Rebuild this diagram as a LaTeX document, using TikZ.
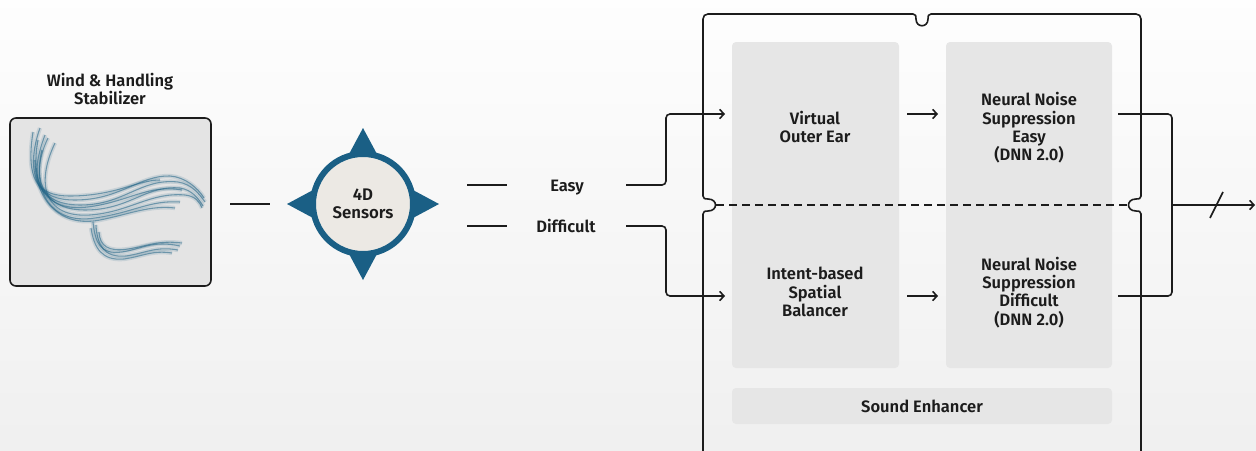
\documentclass[tikz,border=0pt]{standalone}
\usepackage{fontspec}
\setmainfont{Fira Sans}[BoldFont={Fira Sans SemiBold}]
\usetikzlibrary{arrows.meta,calc}
\definecolor{ink}{HTML}{1C1C1C}
\definecolor{ringblue}{HTML}{1A5F85}
\definecolor{disc}{HTML}{ECE9E4}
\definecolor{panel}{HTML}{E6E6E6}
\definecolor{windbg}{HTML}{E4E4E4}
\definecolor{windblue}{HTML}{216486}
\begin{document}
\begin{tikzpicture}[x=0.75pt,y=-0.75pt,
  lbl/.style={font=\bfseries\fontsize{12.4}{13.7}\selectfont, text=ink, align=center, inner sep=0pt},
  conn/.style={draw=ink, line width=1.2pt},
  arr/.style={conn, -{Straight Barb[length=3.2pt,width=7pt]}},
  panelbox/.style={fill=panel, rounded corners=3pt, inner sep=0pt, draw=none},
  windbox/.style={fill=windbg, draw=ink, line width=1.2pt, rounded corners=4.5pt, inner sep=0pt},
  strand/.style={draw=windblue, line width=0.8pt, opacity=0.55},
  strandglow/.style={draw=windblue, line width=3.2pt, opacity=0.14},
]
\useasboundingbox (0,0) rectangle (1256,450);
\shade[top color=white!99!gray, bottom color=gray!12] (0,0) rectangle (1256,450);

% ---------- wind & handling stabilizer ----------
\node[lbl] (windtitle) at (110,89) {Wind \& Handling\\Stabilizer};
\node[windbox, minimum width=150.75pt, minimum height=126pt] (wind) at (110.5,202) {};
\begin{scope}
  \clip[rounded corners=4.5pt] (wind.south west) rectangle (wind.north east);
  \foreach \s in {strandglow,strand}{
    \path[\s] (40,128) .. controls (25,170) and (35,205) .. (80,205) .. controls (125,205) and (140,178) .. (178,182) .. controls (192,184) and (200,195) .. (205,202);
    \path[\s] (48,138) .. controls (30,175) and (40,210) .. (85,210) .. controls (130,210) and (145,185) .. (180,188) .. controls (192,190) and (198,198) .. (203,206);
    \path[\s] (55,143) .. controls (35,185) and (45,218) .. (90,215) .. controls (130,212) and (150,192) .. (185,195) .. controls (195,196) and (200,202) .. (202,208);
    \path[\s] (42,150) .. controls (32,190) and (50,225) .. (95,218) .. controls (135,212) and (150,200) .. (180,202);
    \path[\s] (35,160) .. controls (35,200) and (60,228) .. (100,220) .. controls (130,214) and (150,205) .. (175,208);
    \path[\s] (45,135) .. controls (28,180) and (38,200) .. (75,200) .. controls (120,200) and (140,175) .. (170,176) .. controls (185,177) and (198,188) .. (204,198);
    \path[\s] (38,140) .. controls (30,185) and (45,212) .. (88,207) .. controls (128,202) and (148,184) .. (182,190);
    \path[\s] (33,132) .. controls (26,178) and (36,196) .. (70,196) .. controls (115,196) and (138,180) .. (160,180);
    \path[\s] (93,222) .. controls (95,242) and (100,255) .. (122,252) .. controls (142,249) and (152,240) .. (180,246);
    \path[\s] (96,225) .. controls (97,245) and (104,258) .. (126,256) .. controls (146,253) and (156,246) .. (178,250);
    \path[\s] (91,228) .. controls (94,248) and (102,261) .. (124,259) .. controls (144,256) and (152,250) .. (172,253);
    \path[\s] (99,232) .. controls (100,246) and (108,252) .. (128,249) .. controls (148,246) and (158,240) .. (182,243);
  }
\end{scope}

% ---------- 4D sensors ----------
\coordinate (sc) at (363,204);
\foreach \a in {0,90,180,270}{
  \fill[ringblue] ($(sc)+(\a:76)$) -- ($(sc)+(\a:35)+(\a+90:22)$) -- ($(sc)+(\a:35)+(\a-90:22)$) -- cycle;
}
\node[circle, fill=disc, draw=ringblue, line width=4.5pt, minimum size=75pt, inner sep=0pt,
      font=\bfseries\fontsize{12.6}{13.7}\selectfont, text=ink, align=center] (sensor) at (sc) {4D\\Sensors};

\coordinate (w1) at (230,204);
\coordinate (w2) at (270,204);
\draw[conn] (w1) -- (w2);

% ---------- easy / difficult ----------
\node[lbl, anchor=base] (easy) at (567,191.5) {Easy};
\node[lbl, anchor=base] (diff) at (566,232) {Difficult};
\coordinate (e0) at (467,185); \coordinate (e1) at (507,185);
\coordinate (d0) at (467,226); \coordinate (d1) at (507,226);
\draw[conn] (e0) -- (e1);
\draw[conn] (d0) -- (d1);

% ---------- processing panels ----------
\node[panelbox, minimum width=125.25pt, minimum height=244.5pt] (col1) at (815.5,205) {};
\node[panelbox, minimum width=124.5pt, minimum height=244.5pt] (col2) at (1029,205) {};
\node[panelbox, minimum width=285pt, minimum height=27pt, lbl] (enh) at (922,406) {Sound Enhancer};

\node[lbl] (voe) at (815,127) {Virtual\\Outer Ear};
\node[lbl] (nnse) at (1029,128) {Neural Noise\\Suppression\\Easy\\(DNN 2.0)};
\node[lbl] (isb) at (815,292) {Intent-based\\Spatial\\Balancer};
\node[lbl] (nnsd) at (1029,292.5) {Neural Noise\\Suppression\\Difficult\\(DNN 2.0)};

% outer frame with notches
\draw[conn, line join=round]
  (703,455) -- (703,214)
  .. controls (703,211) and (705,211) .. (708,211)
  .. controls (718,211) and (718,199) .. (708,199)
  .. controls (705,199) and (703,199) .. (703,196)
  -- (703,19) .. controls (703,16) and (705,14) .. (708,14)
  -- (913,14) .. controls (916,14) and (916,16) .. (916,19)
  .. controls (916,28) and (928,28) .. (928,19)
  .. controls (928,16) and (928,14) .. (931,14)
  -- (1136,14) .. controls (1139,14) and (1141,16) .. (1141,19)
  -- (1141,196) .. controls (1141,199) and (1139,199) .. (1136,199)
  .. controls (1126,199) and (1126,211) .. (1136,211)
  .. controls (1139,211) and (1141,211) .. (1141,214)
  -- (1141,455);
\coordinate (dl) at (716,205);
\coordinate (dr) at (1128,205);
\draw[conn, dash pattern=on 6pt off 3.75pt] (dl) -- (dr);

% input routing
\coordinate (ein) at (725,114);
\coordinate (din) at (725,296);
\coordinate (e2) at (626,185);
\coordinate (d2) at (626,226);
\draw[arr, rounded corners=3pt] (e2) -- (666,185) -- (666,114) -- (ein);
\draw[arr, rounded corners=3pt] (d2) -- (666,226) -- (666,296) -- (din);

% internal arrows
\coordinate (a1) at (907,114); \coordinate (a2) at (938,114);
\coordinate (b1) at (907,296); \coordinate (b2) at (938,296);
\draw[arr] (a1) -- (a2);
\draw[arr] (b1) -- (b2);

% output
\coordinate (o1) at (1118,114);
\coordinate (o2) at (1118,296);
\coordinate (oj) at (1172,205);
\coordinate (oend) at (1255,205);
\draw[conn, rounded corners=3pt] (o1) -- (1172,114) -- (1172,296) -- (o2);
\draw[arr] (oj) -- (oend);
\coordinate (s1) at (1210,218);
\coordinate (s2) at (1223,192);
\draw[conn] (s1) -- (s2);
\end{tikzpicture}
\end{document}
